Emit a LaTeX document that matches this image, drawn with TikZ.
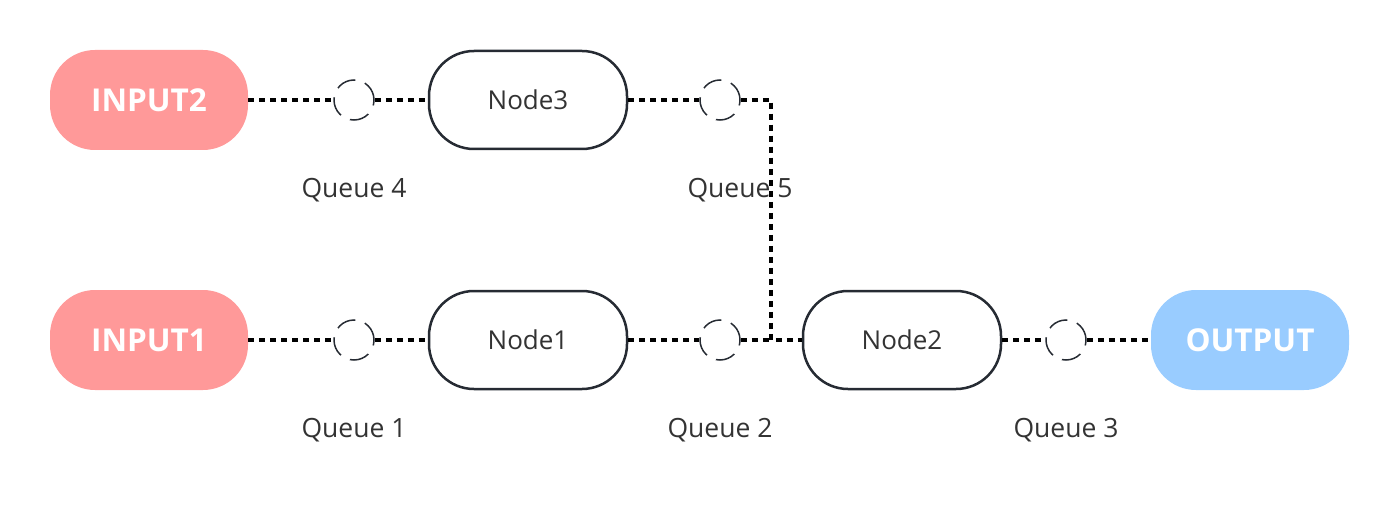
\documentclass[tikz,border=0pt]{standalone}
\usepackage{fontspec}
\setmainfont{Open Sans}
\definecolor{inred}{HTML}{FF9999}
\definecolor{outblue}{HTML}{99CCFF}
\definecolor{edgedark}{HTML}{262B33}
\definecolor{txt}{HTML}{333333}
\begin{document}
\begin{tikzpicture}[x=1pt,y=-1pt,
  pill/.style={rectangle, rounded corners=45pt, minimum width=198pt, minimum height=100pt,
    text=white, font=\fontsize{31.5}{36}\selectfont\bfseries, inner sep=0pt},
  procbox/.style={rectangle, rounded corners=45pt, draw=edgedark, line width=2.5pt,
    minimum width=198pt, minimum height=98pt, text=txt, font=\fontsize{26}{30}\selectfont, inner sep=0pt},
  queue/.style={circle, draw=edgedark, line width=1.5pt, dash pattern=on 20pt off 10pt,
    minimum size=40pt, inner sep=0pt},
  qlabel/.style={text=txt, font=\fontsize{26.5}{30}\selectfont, inner sep=0pt},
  conn/.style={draw=black, line width=4pt, dash pattern=on 6pt off 5pt}
]
\useasboundingbox (0,0) rectangle (1400,516);
% nodes
\node[pill, fill=inred] (in2) at (149,100) {INPUT2};
\node[pill, fill=inred] (in1) at (149,340) {INPUT1};
\node[pill, fill=outblue] (out) at (1250,340) {OUTPUT};
\node[procbox] (n3) at (528,100) {Node3};
\node[procbox] (n1) at (528,340) {Node1};
\node[procbox] (n2) at (902,340) {Node2};
\node[queue] (q4) at (354,100) {};
\node[queue] (q5) at (720,100) {};
\node[queue] (q1) at (354,340) {};
\node[queue] (q2) at (720,340) {};
\node[queue] (q3) at (1066,340) {};
\node[qlabel] (l4) at (354,190) {Queue 4};
\node[qlabel] (l5) at (740,190) {Queue 5};
\node[qlabel] (l1) at (354,430) {Queue 1};
\node[qlabel] (l2) at (720,430) {Queue 2};
\node[qlabel] (l3) at (1066,430) {Queue 3};
\coordinate (j5) at (771,100);
\coordinate (j2) at (771,340);
% connectors
\draw[conn] (in2.east) -- (q4.west);
\draw[conn] (q4.east) -- (n3.west);
\draw[conn] (n3.east) -- (q5.west);
\draw[conn] (q5.east) -- (j5) -- (j2) -- (n2.west);
\draw[conn] (in1.east) -- (q1.west);
\draw[conn] (q1.east) -- (n1.west);
\draw[conn] (n1.east) -- (q2.west);
\draw[conn] (q2.east) -- (j2);
\draw[conn] (n2.east) -- (q3.west);
\draw[conn] (q3.east) -- (out.west);
\end{tikzpicture}
\end{document}
